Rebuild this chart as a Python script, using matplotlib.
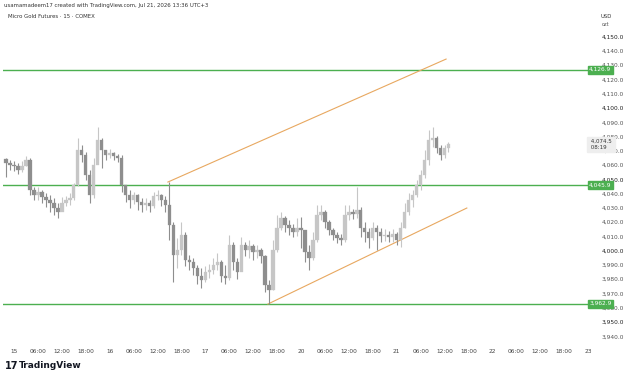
import matplotlib
matplotlib.use("Agg")
import matplotlib.pyplot as plt

# ---------------- data (hourly candles, hour 0 = Jul 15 00:00) ----------------
hours = list(range(-2, 110))
closes = [4061.5, 4060.1, 4059.4, 4056.6, 4059.4, 4063.6, 4042.5, 4039.0, 4041.1, 4037.6,
          4035.5, 4033.4, 4029.9, 4027.1, 4033.4, 4035.5, 4036.9, 4046.0, 4070.6, 4067.1,
          4053.1, 4039.0, 4060.1, 4077.6, 4070.6, 4067.1, 4068.5, 4066.4, 4065.0, 4046.0,
          4039.0, 4035.5, 4039.0, 4034.1, 4032.0, 4033.4, 4031.3, 4038.3, 4039.0, 4035.5,
          4032.0, 4018.0, 3997.0, 4000.5, 4011.0, 3993.5, 3992.1, 3987.9, 3982.3, 3979.5,
          3985.1, 3986.5, 3990.0, 3992.1, 3982.3, 3980.9, 4004.0, 3992.1, 3985.1, 4004.0,
          4000.5, 4003.3, 3999.1, 4000.5, 3996.3, 3976.0, 3972.5, 4000.5, 4015.9, 4022.9,
          4018.0, 4015.9, 4013.1, 4015.9, 4014.5, 3999.1, 3994.9, 4007.5, 4025.0, 4027.1,
          4020.1, 4014.5, 4011.0, 4008.9, 4007.5, 4025.0, 4027.1, 4025.7, 4028.5, 4015.9,
          4013.1, 4008.9, 4015.9, 4013.1, 4010.3, 4011.0, 4009.6, 4011.7, 4007.5, 4015.9,
          4027.1, 4035.5, 4039.0, 4046.0, 4053.1, 4063.6, 4077.6, 4079.0, 4072.0, 4067.1,
          4072.0, 4074.5]
highs = [4065.0, 4063.6, 4062.9, 4061.5, 4062.9, 4066.4, 4065.0, 4044.6, 4044.6, 4042.5,
         4040.4, 4039.0, 4036.9, 4033.4, 4037.6, 4038.3, 4040.4, 4047.4, 4079.0, 4074.1,
         4069.2, 4056.6, 4065.0, 4086.7, 4079.0, 4070.6, 4071.3, 4069.2, 4067.8, 4067.1,
         4045.3, 4042.5, 4041.1, 4039.7, 4036.9, 4036.9, 4035.5, 4041.1, 4042.5, 4039.7,
         4038.3, 4048.1, 4020.1, 4008.9, 4020.1, 4013.1, 3997.0, 3994.9, 3990.0, 3987.9,
         3989.3, 3990.7, 3994.9, 3998.4, 3993.5, 3990.0, 4011.0, 4006.1, 3994.9, 4009.6,
         4006.1, 4007.5, 4004.7, 4004.0, 4001.9, 3997.0, 3979.5, 4007.5, 4025.0, 4027.1,
         4024.3, 4021.5, 4018.7, 4022.9, 4023.6, 4007.5, 4004.0, 4013.1, 4032.0, 4032.0,
         4028.5, 4021.5, 4015.9, 4013.1, 4011.7, 4032.0, 4032.0, 4029.2, 4044.6, 4030.6,
         4020.1, 4015.9, 4020.1, 4018.0, 4015.9, 4015.2, 4013.8, 4015.2, 4013.1, 4020.1,
         4033.4, 4040.4, 4042.5, 4049.5, 4056.6, 4070.6, 4084.6, 4086.7, 4080.4, 4074.1,
         4074.1, 4076.2]
lows = [4051.6, 4056.6, 4055.9, 4053.8, 4055.2, 4059.4, 4039.0, 4035.5, 4035.5, 4033.4,
        4030.6, 4027.1, 4025.0, 4022.9, 4028.5, 4031.3, 4032.0, 4035.5, 4045.3, 4062.2,
        4049.5, 4033.4, 4036.9, 4063.6, 4058.0, 4063.6, 4065.0, 4063.6, 4062.2, 4041.1,
        4034.1, 4029.9, 4032.7, 4028.5, 4027.1, 4028.5, 4027.1, 4029.9, 4035.5, 4031.3,
        4027.1, 4007.5, 3978.1, 3987.9, 3997.0, 3989.3, 3986.5, 3983.0, 3976.7, 3973.9,
        3978.1, 3980.9, 3983.7, 3986.5, 3978.1, 3976.7, 3979.5, 3986.5, 3980.2, 3987.9,
        3996.3, 3994.9, 3993.5, 3994.9, 3991.4, 3971.1, 3962.6, 3972.5, 3999.1, 4014.5,
        4013.1, 4011.0, 4009.6, 4010.3, 4001.9, 3992.1, 3986.5, 3993.5, 4006.1, 4021.5,
        4015.9, 4011.0, 4007.5, 4005.4, 4004.0, 4006.1, 4021.5, 4022.2, 4022.9, 4009.6,
        4006.1, 4001.9, 4007.5, 4000.5, 4006.1, 4006.8, 4006.1, 4006.1, 4004.0, 4002.6,
        4015.9, 4025.0, 4030.6, 4037.6, 4042.5, 4050.9, 4060.1, 4072.7, 4068.5, 4063.6,
        4065.0, 4069.2]
first_open = 4064.0

levels = [4126.9, 4045.9, 3962.9]
last_price = 4074.5
countdown = "08:19"
upper_channel_x = [38.6, 108.4]
upper_channel_y = [4048.1, 4134.3]
lower_channel_x = [63.7, 113.6]
lower_channel_y = [3962.6, 4029.9]

price_ticks = list(range(3940, 4160, 10))
time_tick_hours = [0, 6, 12, 18, 24, 30, 36, 42, 48, 54, 60, 66, 72, 78, 84, 90,
                   96, 102, 108, 114, 120, 126, 132, 138, 144]
time_tick_labels = ["15", "06:00", "12:00", "18:00", "16", "06:00", "12:00", "18:00",
                    "17", "06:00", "12:00", "18:00", "20", "06:00", "12:00", "18:00",
                    "21", "06:00", "12:00", "18:00", "22", "06:00", "12:00", "18:00", "23"]

# ---------------- figure ----------------
W, H = 625, 379
fig = plt.figure(figsize=(W / 100, H / 100), dpi=100)
fig.patch.set_facecolor("white")
ax = fig.add_axes([3 / W, 1 - 342 / H, (589 - 3) / W, 342 / H])
ax.set_facecolor("white")
ax.set_xlim(-2.76, 144.25)
ax.set_ylim(3936.0, 4175.7)
for s in ax.spines.values():
    s.set_visible(False)

up_col = "#c6c6c6"
dn_col = "#8e8e8e"
opens = [first_open] + closes[:-1]
for h, o, c, hi, lo in zip(hours, opens, closes, highs, lows):
    col = up_col if c >= o else dn_col
    ax.vlines(h, lo, hi, color=col, lw=0.8, zorder=3)
    if abs(c - o) > 0.4:
        ax.bar(h, abs(c - o), bottom=min(o, c), width=0.85, color=col,
               edgecolor=col, lw=0.2, zorder=3)
    else:
        ax.bar(h, 0.5, bottom=c - 0.25, width=0.85, color=col, lw=0, zorder=3)

green = "#4caf50"
for lv in levels:
    ax.axhline(lv, color=green, lw=1.0, zorder=2)

chan_col = "#e8a860"
ax.plot(upper_channel_x, upper_channel_y, color=chan_col, lw=0.8, zorder=2)
ax.plot(lower_channel_x, lower_channel_y, color=chan_col, lw=0.8, zorder=2)

# right price scale
ax.yaxis.tick_right()
ax.set_yticks(price_ticks)
ax.set_yticklabels([f"{v:,.1f}" for v in price_ticks])
ax.tick_params(axis="y", length=0, pad=9, labelsize=4.2, labelcolor="#555555")
for lab, v in zip(ax.get_yticklabels(), price_ticks):
    if v % 50 == 0:
        lab.set_color("#222222")

# time axis
ax.set_xticks(time_tick_hours)
ax.set_xticklabels(time_tick_labels)
ax.tick_params(axis="x", length=0, pad=5, labelsize=4.2, labelcolor="#444444")

ytr = ax.get_yaxis_transform()
for lv in levels:
    ax.text(1.0, lv, f"{lv:,.1f}", transform=ytr, ha="left", va="center",
            fontsize=4.2, color="white", clip_on=False, zorder=10,
            bbox=dict(boxstyle="square,pad=0.25", fc=green, ec=green))
ax.text(1.0, last_price, f" {last_price:,.1f} \n {countdown}", transform=ytr,
        ha="left", va="center", fontsize=4.0, color="#333333", clip_on=False,
        zorder=10, linespacing=1.1,
        bbox=dict(boxstyle="square,pad=0.35", fc="#eeeeee", ec="#eeeeee"))

# header / currency
fig.text(4 / W, 1 - 5 / H, "usamamadeem17 created with TradingView.com, Jul 21, 2026 13:36 UTC+3",
         fontsize=3.9, color="#333333", va="center", ha="left")
fig.text(8 / W, 1 - 16 / H, "Micro Gold Futures \u00b7 15 \u00b7 COMEX",
         fontsize=3.9, color="#333333", va="center", ha="left")
fig.text(606 / W, 1 - 16 / H, "USD", fontsize=3.8, color="#333333", ha="center", va="center")
fig.text(606 / W, 1 - 25 / H, "ozt", fontsize=3.6, color="#555555", ha="center", va="center")

# TradingView logo
fig.text(5 / W, 1 - 366 / H, "17", fontsize=7, fontweight="bold", color="#131722",
         ha="left", va="center")
fig.text(19 / W, 1 - 366 / H, "TradingView", fontsize=6.5, fontweight="bold",
         color="#131722", ha="left", va="center")

fig.savefig("out.png", dpi=100, facecolor="white")
